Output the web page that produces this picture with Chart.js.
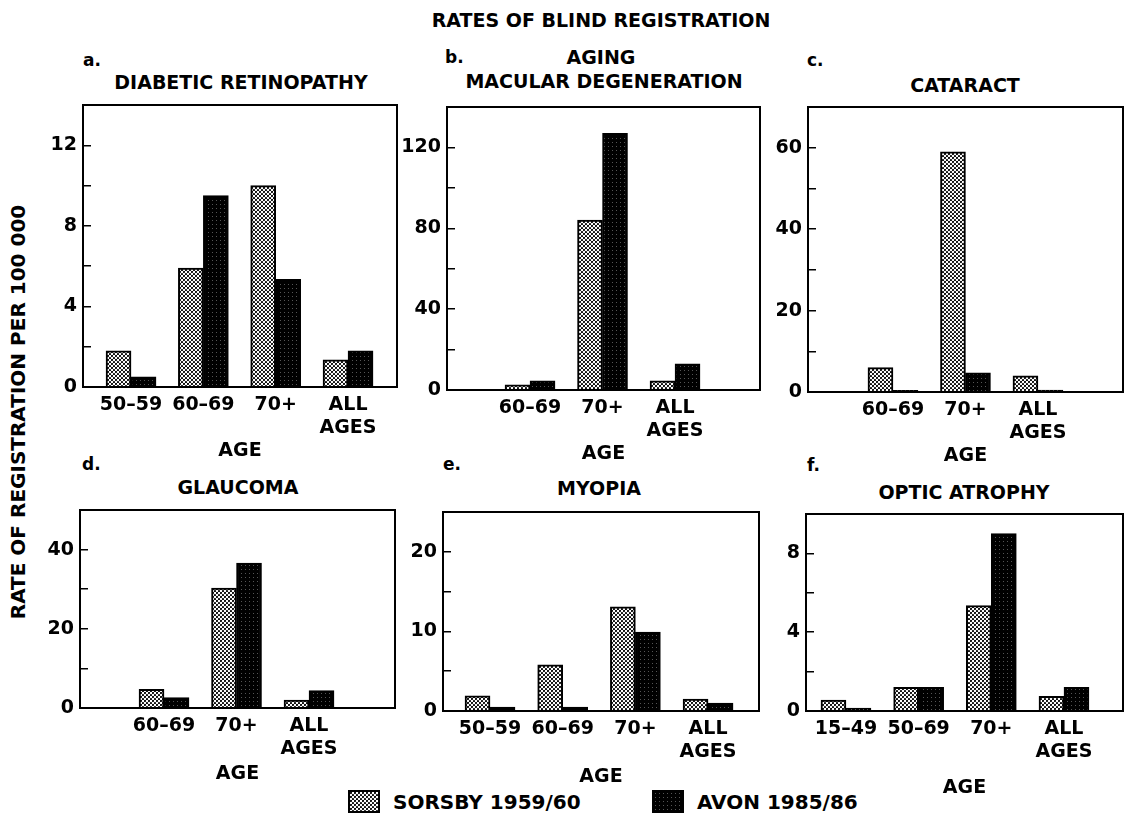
<!DOCTYPE html>
<html>
<head>
<meta charset="utf-8">
<script src="https://cdn.jsdelivr.net/npm/chart.js@4.4.0/dist/chart.umd.min.js"></script>
<style>
  body { margin: 0; background: #fff; }
  #page { position: relative; width: 1129px; height: 815px; overflow: hidden; font-family: 'DejaVu Sans', sans-serif; font-weight: bold; color: #000; }
  .txt { position: absolute; white-space: nowrap; line-height: 1; }
  .c { transform: translate(-50%, -50%); text-align: center; }
  .l { transform: translate(0, -50%); }
  canvas.panel { position: absolute; }
  .swatch { position: absolute; width: 32px; height: 23px; box-sizing: border-box; border: 2px solid #000; }
</style>
</head>
<body>
<div id="page">
  <div class="txt c" style="left:601px; top:20px; font-size:19px;">RATES OF BLIND REGISTRATION</div>
  <div class="txt c" style="left:18px; top:412px; font-size:20px; transform: translate(-50%, -50%) rotate(-90deg);">RATE OF REGISTRATION PER 100 000</div>

  <div class="txt l" style="left:83px; top:60px; font-size:17px;">a.</div>
  <div class="txt c" style="left:241px; top:82px; font-size:19px;">DIABETIC RETINOPATHY</div>
  <div class="txt l" style="left:445px; top:57px; font-size:17px;">b.</div>
  <div class="txt c" style="left:601px; top:57px; font-size:19px;">AGING</div>
  <div class="txt c" style="left:604px; top:81px; font-size:19px;">MACULAR DEGENERATION</div>
  <div class="txt l" style="left:807px; top:60px; font-size:17px;">c.</div>
  <div class="txt c" style="left:965px; top:85px; font-size:19px;">CATARACT</div>
  <div class="txt l" style="left:82px; top:464px; font-size:17px;">d.</div>
  <div class="txt c" style="left:238px; top:487px; font-size:19px;">GLAUCOMA</div>
  <div class="txt l" style="left:443px; top:464px; font-size:17px;">e.</div>
  <div class="txt c" style="left:599px; top:488px; font-size:19px;">MYOPIA</div>
  <div class="txt l" style="left:807px; top:465px; font-size:17px;">f.</div>
  <div class="txt c" style="left:964px; top:492px; font-size:19px;">OPTIC ATROPHY</div>

  <canvas class="swatch" id="swSorsby" width="28" height="19" style="left:348px; top:790px;"></canvas>
  <div class="txt l" id="lgSorsby" style="left:393px; top:802px; font-size:20px;"></div>
  <canvas class="swatch" id="swAvon" width="28" height="19" style="left:652px; top:790px;"></canvas>
  <div class="txt l" id="lgAvon" style="left:697px; top:802px; font-size:20px;"></div>
</div>
<script>
// Series names
const seriesNames = ['SORSBY 1959/60', 'AVON 1985/86'];

// a. Diabetic retinopathy
const agesA = ['50–59', '60–69', '70+', 'ALL AGES'];
const sorsbyA = [1.8, 5.9, 10.0, 1.35];
const avonA = [0.5, 9.5, 5.35, 1.8];

// b. Aging macular degeneration
const agesB = ['60–69', '70+', 'ALL AGES'];
const sorsbyB = [2.5, 84, 4.5];
const avonB = [4.5, 127, 13];

// c. Cataract
const agesC = ['60–69', '70+', 'ALL AGES'];
const sorsbyC = [6, 59, 4];
const avonC = [0.4, 4.7, 0.5];

// d. Glaucoma
const agesD = ['60–69', '70+', 'ALL AGES'];
const sorsbyD = [4.7, 30.3, 2];
const avonD = [2.6, 36.6, 4.4];

// e. Myopia
const agesE = ['50–59', '60–69', '70+', 'ALL AGES'];
const sorsbyE = [1.9, 5.8, 13.1, 1.5];
const avonE = [0.5, 0.5, 9.9, 1.0];

// f. Optic atrophy
const agesF = ['15–49', '50–69', '70+', 'ALL AGES'];
const sorsbyF = [0.55, 1.2, 5.35, 0.75];
const avonF = [0.15, 1.2, 9.0, 1.2];

// y-axis ranges: max value and labelled step
const yMaxes = [14, 140, 70, 50, 25, 10];
const yMajors = [4, 40, 20, 20, 10, 4];

const FONT = "'DejaVu Sans', sans-serif";

// plot box [left, top, right, bottom] and x range for each panel
const panels = [
  { ages: agesA, sorsby: sorsbyA, avon: avonA, box: [83, 105, 397, 387], xMin: 0.336, xMax: 4.677, axisH: 75 },
  { ages: agesB, sorsby: sorsbyB, avon: avonB, box: [447, 107, 760, 390], xMin: -0.145, xMax: 4.172, axisH: 75 },
  { ages: agesC, sorsby: sorsbyC, avon: avonC, box: [808, 107, 1123, 392], xMin: -0.172, xMax: 4.173, axisH: 75 },
  { ages: agesD, sorsby: sorsbyD, avon: avonD, box: [80, 510, 395, 708], xMin: -0.159, xMax: 4.186, axisH: 77 },
  { ages: agesE, sorsby: sorsbyE, avon: avonE, box: [443, 512, 759, 711], xMin: 0.353, xMax: 4.701, axisH: 77 },
  { ages: agesF, sorsby: sorsbyF, avon: avonF, box: [806, 514, 1123, 711], xMin: 0.450, xMax: 4.812, axisH: 88 }
];

// stippled fills
function makePattern(dark) {
  const c = document.createElement('canvas');
  c.width = 4; c.height = 4;
  const g = c.getContext('2d');
  g.fillStyle = dark ? '#000' : '#fff';
  g.fillRect(0, 0, 4, 4);
  g.fillStyle = dark ? '#555' : '#000';
  if (dark) {
    g.fillRect(1, 1, 1, 1);
  } else {
    g.beginPath(); g.arc(1, 1, 1.1, 0, Math.PI * 2); g.fill();
    g.beginPath(); g.arc(3, 3, 1.1, 0, Math.PI * 2); g.fill();
    g.beginPath(); g.arc(-1, 3, 1.1, 0, Math.PI * 2); g.fill();
    g.beginPath(); g.arc(3, -1, 1.1, 0, Math.PI * 2); g.fill();
  }
  return g.createPattern(c, 'repeat');
}
const lightFill = makePattern(false);
const darkFill = makePattern(true);

// frame round the plot area
const frame = {
  id: 'frame',
  afterDraw(chart) {
    const a = chart.chartArea;
    const ctx = chart.ctx;
    ctx.save();
    ctx.strokeStyle = '#000';
    ctx.lineWidth = 2;
    ctx.strokeRect(a.left, a.top, a.right - a.left, a.bottom - a.top);
    ctx.restore();
  }
};

const Y_W = 60, PAD_T = 10, PAD_R = 10;

panels.forEach((p, k) => {
  const [l, t, r, b] = p.box;
  const cv = document.createElement('canvas');
  cv.className = 'panel';
  cv.width = (r - l) + Y_W + PAD_R;
  cv.height = PAD_T + (b - t) + p.axisH;
  cv.style.left = (l - Y_W) + 'px';
  cv.style.top = (t - PAD_T) + 'px';
  document.getElementById('page').appendChild(cv);

  const major = yMajors[k];
  const ticksAt = p.ages.map((_, i) => ({ value: i + 1 }));

  new Chart(cv.getContext('2d'), {
    type: 'bar',
    data: {
      datasets: [
        {
          label: seriesNames[0],
          data: p.sorsby.map((v, i) => ({ x: i + 1, y: v })),
          backgroundColor: lightFill,
          borderColor: '#000',
          borderWidth: 2
        },
        {
          label: seriesNames[1],
          data: p.avon.map((v, i) => ({ x: i + 1, y: v })),
          backgroundColor: darkFill,
          borderColor: '#000',
          borderWidth: 2
        }
      ]
    },
    options: {
      responsive: false,
      animation: false,
      events: [],
      barThickness: 25,
      layout: { padding: { top: PAD_T, right: PAD_R, left: 0, bottom: 0 } },
      plugins: { legend: { display: false }, tooltip: { enabled: false } },
      scales: {
        x: {
          type: 'linear',
          offset: false,
          min: p.xMin,
          max: p.xMax,
          grid: { display: false, drawTicks: false, offset: false },
          border: { display: false },
          afterBuildTicks: axis => { axis.ticks = ticksAt.map(o => ({ value: o.value })); },
          afterFit: axis => {
            axis.height = p.axisH;
            axis.paddingLeft = 0;
            axis.paddingRight = 0;
          },
          ticks: {
            autoSkip: false,
            maxRotation: 0,
            minRotation: 0,
            padding: 7,
            color: '#000',
            font: { family: FONT, size: 19, weight: 'bold' },
            callback: v => {
              const s = p.ages[Math.round(v) - 1];
              return s ? s.split(' ') : '';
            }
          },
          title: {
            display: true,
            text: 'AGE',
            color: '#000',
            padding: 0,
            font: { family: FONT, size: 19, weight: 'bold' }
          }
        },
        y: {
          min: 0,
          max: yMaxes[k],
          border: { display: false },
          grid: { drawOnChartArea: false, drawTicks: true, tickLength: -8, color: '#000', lineWidth: 1.5 },
          afterFit: axis => {
            axis.width = Y_W;
            axis.paddingTop = 0;
            axis.paddingBottom = 0;
          },
          ticks: {
            stepSize: major / 2,
            padding: 14,
            color: '#000',
            font: { family: FONT, size: 19, weight: 'bold' },
            callback: v => (v % major === 0 ? v : '')
          }
        }
      }
    },
    plugins: [frame]
  });
});

// legend
[['swSorsby', lightFill], ['swAvon', darkFill]].forEach(([id, fill]) => {
  const g = document.getElementById(id).getContext('2d');
  g.fillStyle = fill;
  g.fillRect(0, 0, 28, 19);
});
document.getElementById('lgSorsby').textContent = seriesNames[0];
document.getElementById('lgAvon').textContent = seriesNames[1];
</script>
</body>
</html>
